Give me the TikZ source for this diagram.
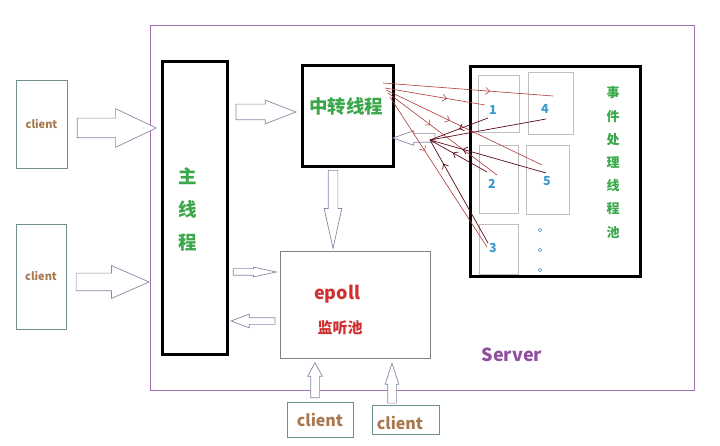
\documentclass[tikz,border=0pt]{standalone}
\usepackage{fontspec}
\setmainfont{Noto Sans CJK SC}
\usetikzlibrary{shapes.arrows,decorations.markings,arrows.meta}

\definecolor{framepurple}{HTML}{A070B0}
\definecolor{serverpurple}{HTML}{9050A0}
\definecolor{clientline}{HTML}{6A9090}
\definecolor{clienttext}{HTML}{A87850}
\definecolor{threadgreen}{HTML}{3AA84A}
\definecolor{epollred}{HTML}{D03030}
\definecolor{numblue}{HTML}{3A9AD0}
\definecolor{hollowline}{HTML}{8888A8}
\definecolor{sendred}{HTML}{B03A3A}
\definecolor{backred}{HTML}{5A0A1A}

\begin{document}
\begin{tikzpicture}[
    x=1pt, y=-1pt,
    thread/.style={draw=black, line width=3pt, inner sep=0pt},
    worker/.style={draw=black!25, line width=0.8pt, inner sep=0pt},
    client/.style={draw=clientline, line width=0.7pt, inner sep=0pt, text=clienttext, font=\bfseries\fontsize{11}{11}\selectfont},
    num/.style={text=numblue, font=\bfseries\fontsize{12.5}{12.5}\selectfont, inner sep=0pt},
    fat/.style={single arrow, draw=hollowline, fill=white, line width=0.7pt, single arrow head indent=0pt, anchor=tip},
    midarrow/.style={postaction={decorate}, decoration={markings, mark=at position #1 with {\arrow{Straight Barb[length=4pt,width=7pt]}}}},
    send/.style={draw=sendred, line width=0.6pt},
    back/.style={draw=backred, line width=0.7pt}
]

\fill[white] (0,0) rectangle (720,446);
\useasboundingbox (0,0) rectangle (720,446);

% Server frame
\draw[framepurple, line width=0.8pt] (150,25) rectangle (694,390);
\node[text=serverpurple, font=\bfseries\fontsize{18}{18}\selectfont] (server) at (512,355) {Server};

% Clients
\node[client, minimum width=51, minimum height=88] (cl1) at (41.5,124) {client};
\node[client, minimum width=50, minimum height=105] (cl2) at (41,276.5) {client};
\node[client, minimum width=66, minimum height=35, font=\bfseries\fontsize{16}{16}\selectfont] (cl3) at (320,419.5) {client};
\node[client, minimum width=67, minimum height=29] (cl4) at (405.5,419.5) {};
\node[text=clienttext, font=\bfseries\fontsize{16}{16}\selectfont] (cl4lbl) at (400,423) {client};

% Threads
\node[thread, minimum width=65, minimum height=292] (main) at (194.5,208) {};
\node[align=center, text=threadgreen, font=\bfseries\fontsize{18.5}{33}\selectfont] (mainlbl) at (188,209) {主\\线\\程};
\node[thread, minimum width=91, minimum height=101] (relay) at (347.5,116.5) {};
\node[text=threadgreen, font=\bfseries\fontsize{18.5}{18.5}\selectfont] (relaylbl) at (346,106) {中转线程};
\node[draw=black!50, line width=0.8pt, minimum width=150, minimum height=107] (epoll) at (355,304.5) {};
\node[text=epollred, font=\bfseries\fontsize{18}{18}\selectfont] (epolllbl) at (337,294) {epoll};
\node[text=epollred, font=\bfseries\fontsize{15}{15}\selectfont] (poollbl) at (340,328) {监听池};

% Event thread pool
\node[thread, minimum width=170, minimum height=210] (pool) at (555,172) {};
\node[worker, minimum width=41, minimum height=57] (w1) at (498.5,103.5) {};
\node[worker, minimum width=45, minimum height=62] (w4) at (550.5,103) {};
\node[worker, minimum width=39, minimum height=68] (w2) at (498.5,179) {};
\node[worker, minimum width=43, minimum height=69] (w5) at (547.5,179.5) {};
\node[worker, minimum width=39, minimum height=50] (w3) at (498.5,249) {};
\node[num] (n1) at (493,110) {1};
\node[num] (n4) at (545,109) {4};
\node[num] (n2) at (492,184) {2};
\node[num] (n5) at (547,181) {5};
\node[num] (n3) at (493,248) {3};
\foreach \y in {230,250,270}
    \draw[numblue, line width=0.6pt] (540,\y) circle (1.8);
\node[align=center, text=threadgreen, font=\bfseries\fontsize{13}{23.2}\selectfont] (poolname) at (613,162.5) {事\\件\\处\\理\\线\\程\\池};

% Hollow arrows
\node[fat, minimum height=79, inner sep=9.5, single arrow head extend=9.5, single arrow tip angle=51] (a1) at (157,128) {};
\node[fat, minimum height=73, inner sep=8.5, single arrow head extend=7.5, single arrow tip angle=47] (a2) at (150,282) {};
\node[fat, minimum height=60, inner sep=7.5, single arrow head extend=4, single arrow tip angle=42] (a3) at (297,112) {};
\node[fat, minimum height=78, inner sep=4.5, single arrow head extend=4, single arrow tip angle=25, shape border rotate=270] (a4) at (333,250) {};
\node[fat, minimum height=43, inner sep=3, single arrow head extend=1.5, single arrow tip angle=24] (a5) at (278,272) {};
\node[fat, minimum height=44, inner sep=3, single arrow head extend=3.5, single arrow tip angle=41, shape border rotate=180] (a6) at (230,321) {};
\node[fat, minimum height=35, inner sep=4, single arrow head extend=3, single arrow tip angle=57, shape border rotate=90] (a7) at (315,362) {};
\node[fat, minimum height=40, inner sep=4, single arrow head extend=2.5, single arrow tip angle=36, shape border rotate=90] (a8) at (392,362) {};
\node[fat, minimum height=42, inner sep=4, single arrow head extend=3, single arrow tip angle=39, shape border rotate=180] (a9) at (392,138) {};

% Dispatch lines
\coordinate (o4) at (383,83);
\coordinate (o1) at (385,88);
\coordinate (o5) at (386,90);
\coordinate (o2) at (388,93);
\coordinate (o3) at (390,97);
\coordinate (e4) at (553,96);
\coordinate (e1) at (485,105);
\coordinate (e5) at (542,165);
\coordinate (e2) at (497,175);
\coordinate (e3) at (487,247);
\draw[send, midarrow=0.63] (o4) -- (e4);
\draw[send, midarrow=0.62] (o1) -- (e1);
\draw[send, midarrow=0.41] (o5) -- (e5);
\draw[send, midarrow=0.39] (o2) -- (e2);
\draw[send, midarrow=0.36] (o3) -- (e3);

% Return lines
\coordinate (hub) at (430,140);
\coordinate (b1) at (488,118);
\coordinate (b4) at (546,119);
\coordinate (b5) at (546,173);
\coordinate (b2) at (487,172);
\coordinate (b3) at (488,243);
\draw[back, midarrow=0.5] (b1) -- (hub);
\draw[back] (b4) -- (hub);
\draw[back, midarrow=0.72] (b5) -- (hub);
\draw[back, midarrow=0.6] (b2) -- (hub);
\draw[back, midarrow=0.77] (b3) -- (hub);

\end{tikzpicture}
\end{document}
